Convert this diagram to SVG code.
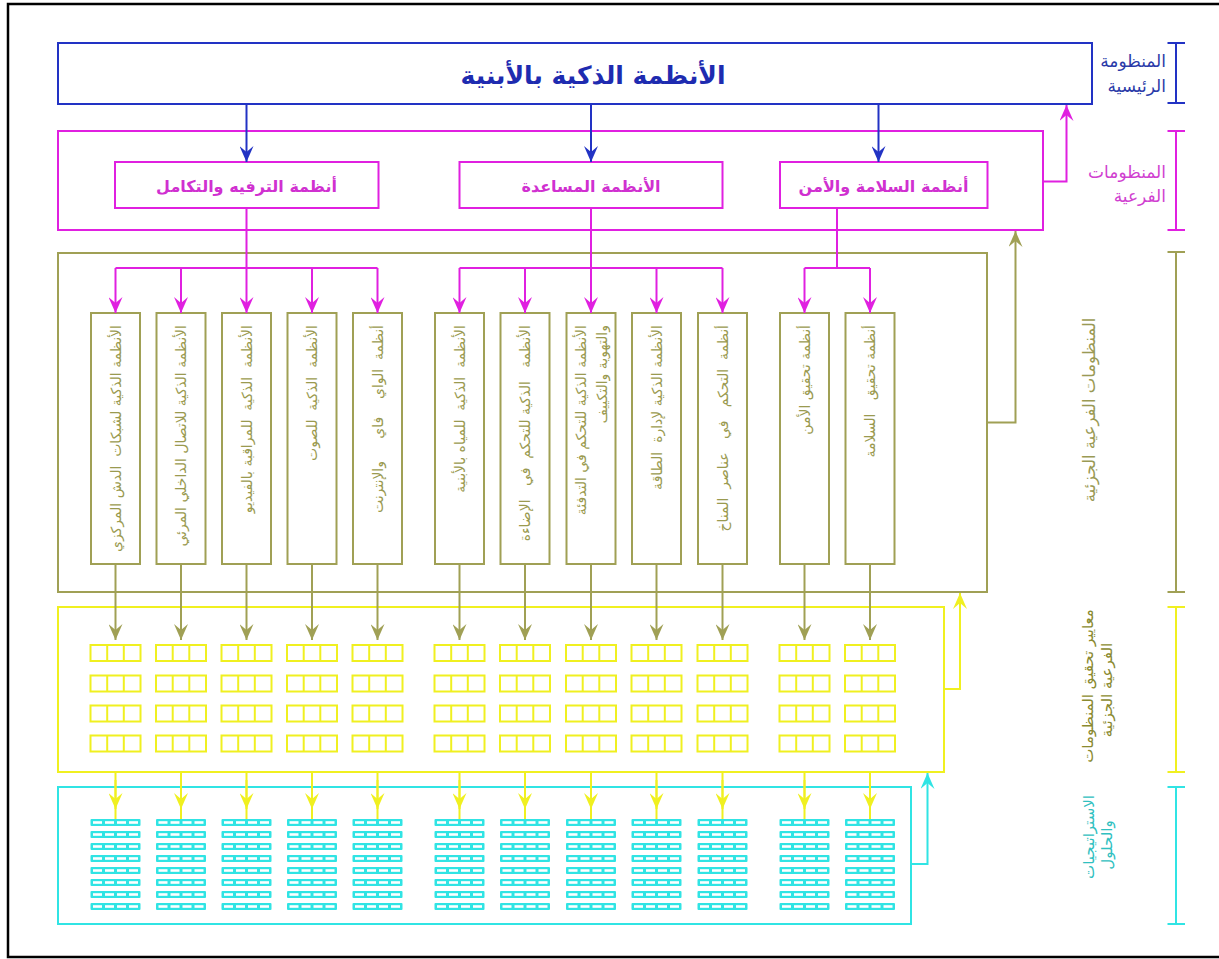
<svg xmlns="http://www.w3.org/2000/svg" xmlns:xlink="http://www.w3.org/1999/xlink" width="1219" height="959" viewBox="0 0 1219 959">
<style>
  text { font-family: "DejaVu Sans", "Noto Sans", sans-serif; dominant-baseline: central; white-space: pre; }
  .blue { stroke: #2233c4; stroke-width: 2; fill: none; }
  .mag { stroke: #e020e0; stroke-width: 2; fill: none; }
  .olive { stroke: #a0a055; stroke-width: 2; fill: none; }
  .yel { stroke: #f0f020; stroke-width: 2; fill: none; }
  .cyan { stroke: #30e4e4; stroke-width: 2; fill: none; }
  .title { fill: #1e2bb0; font-size: 25px; font-weight: bold; text-anchor: middle; }
  .sub { fill: #d030d0; font-size: 16px; font-weight: bold; text-anchor: middle; }
  .vt { fill: #9a9a50; font-size: 14px; text-anchor: end; }
  .lb { font-size: 17px; text-anchor: end; }
  .lbr { text-anchor: middle; }
</style>
<defs>
  <marker id="aB" viewBox="0 0 16 14" refX="16" refY="7" markerWidth="16" markerHeight="14" markerUnits="userSpaceOnUse" orient="auto"><path d="M0,0 L16,7 L0,14 L6,7 Z" fill="#2233c4"/></marker>
  <marker id="aM" viewBox="0 0 16 14" refX="16" refY="7" markerWidth="16" markerHeight="14" markerUnits="userSpaceOnUse" orient="auto"><path d="M0,0 L16,7 L0,14 L6,7 Z" fill="#e020e0"/></marker>
  <marker id="aO" viewBox="0 0 16 14" refX="16" refY="7" markerWidth="16" markerHeight="14" markerUnits="userSpaceOnUse" orient="auto"><path d="M0,0 L16,7 L0,14 L6,7 Z" fill="#a0a055"/></marker>
  <marker id="aY" viewBox="0 0 16 14" refX="16" refY="7" markerWidth="16" markerHeight="14" markerUnits="userSpaceOnUse" orient="auto"><path d="M0,0 L16,7 L0,14 L6,7 Z" fill="#f0f020"/></marker>
  <marker id="aC" viewBox="0 0 16 14" refX="16" refY="7" markerWidth="16" markerHeight="14" markerUnits="userSpaceOnUse" orient="auto"><path d="M0,0 L16,7 L0,14 L6,7 Z" fill="#30e4e4"/></marker>
  <g id="ygrid" class="yel"><rect x="0" y="0" width="50" height="16"/><line x1="16.7" y1="0" x2="16.7" y2="16"/><line x1="33.3" y1="0" x2="33.3" y2="16"/></g>
  <g id="ycol"><use xlink:href="#ygrid" y="0"/><use xlink:href="#ygrid" y="30.5"/><use xlink:href="#ygrid" y="60.5"/><use xlink:href="#ygrid" y="90.5"/></g>
  <g id="crow"><rect x="0" y="0" width="50" height="7" rx="1" fill="#30e4e4"/><rect x="2.5" y="2.2" width="9" height="2.6" fill="#fff"/><rect x="14.5" y="2.2" width="9" height="2.6" fill="#fff"/><rect x="26.5" y="2.2" width="9" height="2.6" fill="#fff"/><rect x="38.5" y="2.2" width="9" height="2.6" fill="#fff"/></g>
  <g id="ccol"><use xlink:href="#crow" y="0"/><use xlink:href="#crow" y="12"/><use xlink:href="#crow" y="24"/><use xlink:href="#crow" y="36"/><use xlink:href="#crow" y="48"/><use xlink:href="#crow" y="60"/><use xlink:href="#crow" y="72"/><use xlink:href="#crow" y="84"/></g>
</defs>
<rect x="0" y="0" width="1219" height="959" fill="#ffffff"/>
<rect x="8" y="4" width="1216" height="953" fill="none" stroke="#000" stroke-width="2.5"/>

<g id="main">
  <rect class="blue" x="58" y="43" width="1034" height="61"/>
  <text class="title" x="593" y="75">الأنظمة الذكية بالأبنية</text>
</g>

<g id="subsystems">
  <rect class="mag" x="58" y="131" width="985" height="99"/>
</g>
<g id="sub-ent">
  <rect class="mag" x="115" y="162" width="263.5" height="46"/>
  <text class="sub" x="246.5" y="186">أنظمة الترفيه والتكامل</text>
</g>
<g id="sub-aux">
  <rect class="mag" x="459.5" y="162" width="263" height="46"/>
  <text class="sub" x="591" y="186">الأنظمة المساعدة</text>
</g>
<g id="sub-safe">
  <rect class="mag" x="780" y="162" width="207.5" height="46"/>
  <text class="sub" x="883.5" y="186">أنظمة السلامة والأمن</text>
</g>

<g id="partial">
  <rect class="olive" x="58" y="253" width="929" height="339"/>
</g>
<g id="p1"><rect class="olive" x="91" y="313" width="49" height="251"/><text class="vt" transform="translate(115.5,325) rotate(-90)">الأنظمة الذكية لشبكات  الدش المركزي</text></g>
<g id="p2"><rect class="olive" x="156.5" y="313" width="49" height="251"/><text class="vt" transform="translate(181,325) rotate(-90)">الأنظمة الذكية للاتصال الداخلي المرئي</text></g>
<g id="p3"><rect class="olive" x="222" y="313" width="49" height="251"/><text class="vt" transform="translate(246.5,325) rotate(-90)">الأنظمة  الذكية  للمراقبة بالفيديو</text></g>
<g id="p4"><rect class="olive" x="287.5" y="313" width="49" height="251"/><text class="vt" transform="translate(312,325) rotate(-90)">الأنظمة  الذكية  للصوت</text></g>
<g id="p5"><rect class="olive" x="353" y="313" width="49" height="251"/><text class="vt" transform="translate(377.5,325) rotate(-90)">أنظمة  الواي    فاي     والإنترنت</text></g>
<g id="p6"><rect class="olive" x="435" y="313" width="49" height="251"/><text class="vt" transform="translate(459.5,325) rotate(-90)">الأنظمة  الذكية  للمياه بالأبنية</text></g>
<g id="p7"><rect class="olive" x="500.5" y="313" width="49" height="251"/><text class="vt" transform="translate(525,325) rotate(-90)">الأنظمة   الذكية للتحكم  في   الإضاءة</text></g>
<g id="p8"><rect class="olive" x="566.5" y="313" width="49" height="251"/><text class="vt" transform="translate(581,325) rotate(-90)">الأنظمة الذكية للتحكم في التدفئة</text><text class="vt" transform="translate(602,325) rotate(-90)">والتهوية والتكييف</text></g>
<g id="p9"><rect class="olive" x="632" y="313" width="49" height="251"/><text class="vt" transform="translate(656.5,325) rotate(-90)">الأنظمة الذكية لإدارة  الطاقة</text></g>
<g id="p10"><rect class="olive" x="698" y="313" width="49" height="251"/><text class="vt" transform="translate(722.5,325) rotate(-90)">أنظمة  التحكم   في   عناصر  المناخ</text></g>
<g id="p11"><rect class="olive" x="780" y="313" width="49" height="251"/><text class="vt" transform="translate(804.5,325) rotate(-90)">أنظمة تحقيق الأمن</text></g>
<g id="p12"><rect class="olive" x="845.5" y="313" width="49" height="251"/><text class="vt" transform="translate(870,325) rotate(-90)">أنظمة تحقيق   السلامة</text></g>

<g id="criteria">
  <rect class="yel" x="58" y="607" width="886" height="165"/>
  <use xlink:href="#ycol" x="90.5" y="645"/>
  <use xlink:href="#ycol" x="156" y="645"/>
  <use xlink:href="#ycol" x="221.5" y="645"/>
  <use xlink:href="#ycol" x="287" y="645"/>
  <use xlink:href="#ycol" x="352.5" y="645"/>
  <use xlink:href="#ycol" x="434.5" y="645"/>
  <use xlink:href="#ycol" x="500" y="645"/>
  <use xlink:href="#ycol" x="566" y="645"/>
  <use xlink:href="#ycol" x="631.5" y="645"/>
  <use xlink:href="#ycol" x="697.5" y="645"/>
  <use xlink:href="#ycol" x="779.5" y="645"/>
  <use xlink:href="#ycol" x="845" y="645"/>
</g>

<g id="strategies">
  <rect class="cyan" x="58" y="787" width="853" height="137"/>
  <use xlink:href="#ccol" x="90.5" y="819"/>
  <use xlink:href="#ccol" x="156" y="819"/>
  <use xlink:href="#ccol" x="221.5" y="819"/>
  <use xlink:href="#ccol" x="287" y="819"/>
  <use xlink:href="#ccol" x="352.5" y="819"/>
  <use xlink:href="#ccol" x="434.5" y="819"/>
  <use xlink:href="#ccol" x="500" y="819"/>
  <use xlink:href="#ccol" x="566" y="819"/>
  <use xlink:href="#ccol" x="631.5" y="819"/>
  <use xlink:href="#ccol" x="697.5" y="819"/>
  <use xlink:href="#ccol" x="779.5" y="819"/>
  <use xlink:href="#ccol" x="845" y="819"/>
</g>

<g id="connectors">
  <path class="blue" marker-end="url(#aB)" d="M246.5,104 V162"/>
  <path class="blue" marker-end="url(#aB)" d="M591,104 V162"/>
  <path class="blue" marker-end="url(#aB)" d="M878.5,104 V162"/>
  <path class="mag" marker-end="url(#aM)" d="M1043,181.5 H1066.5 V105"/>
  <path class="mag" d="M246.5,208 V268 M591,208 V268 M837,208 V268"/>
  <path class="mag" d="M115.5,268 H377.5 M459.5,268 H722.5 M804.5,268 H870"/>
  <path class="mag" marker-end="url(#aM)" d="M115.5,268 V313"/>
  <path class="mag" marker-end="url(#aM)" d="M181,268 V313"/>
  <path class="mag" marker-end="url(#aM)" d="M246.5,268 V313"/>
  <path class="mag" marker-end="url(#aM)" d="M312,268 V313"/>
  <path class="mag" marker-end="url(#aM)" d="M377.5,268 V313"/>
  <path class="mag" marker-end="url(#aM)" d="M459.5,268 V313"/>
  <path class="mag" marker-end="url(#aM)" d="M525,268 V313"/>
  <path class="mag" marker-end="url(#aM)" d="M591,268 V313"/>
  <path class="mag" marker-end="url(#aM)" d="M656.5,268 V313"/>
  <path class="mag" marker-end="url(#aM)" d="M722.5,268 V313"/>
  <path class="mag" marker-end="url(#aM)" d="M804.5,268 V313"/>
  <path class="mag" marker-end="url(#aM)" d="M870,268 V313"/>
  <path class="olive" marker-end="url(#aO)" d="M987,422.5 H1015.5 V231"/>
  <path class="olive" marker-end="url(#aO)" d="M115.5,564 V640"/>
  <path class="olive" marker-end="url(#aO)" d="M181,564 V640"/>
  <path class="olive" marker-end="url(#aO)" d="M246.5,564 V640"/>
  <path class="olive" marker-end="url(#aO)" d="M312,564 V640"/>
  <path class="olive" marker-end="url(#aO)" d="M377.5,564 V640"/>
  <path class="olive" marker-end="url(#aO)" d="M459.5,564 V640"/>
  <path class="olive" marker-end="url(#aO)" d="M525,564 V640"/>
  <path class="olive" marker-end="url(#aO)" d="M591,564 V640"/>
  <path class="olive" marker-end="url(#aO)" d="M656.5,564 V640"/>
  <path class="olive" marker-end="url(#aO)" d="M722.5,564 V640"/>
  <path class="olive" marker-end="url(#aO)" d="M804.5,564 V640"/>
  <path class="olive" marker-end="url(#aO)" d="M870,564 V640"/>
  <path class="yel" marker-end="url(#aY)" d="M944,689 H960 V593"/>
  <path class="yel" d="M115.5,772 V819 M181,772 V819 M246.5,772 V819 M312,772 V819 M377.5,772 V819 M459.5,772 V819 M525,772 V819 M591,772 V819 M656.5,772 V819 M722.5,772 V819 M804.5,772 V819 M870,772 V819"/>
  <path class="yel" marker-end="url(#aY)" d="M115.5,780 V809"/>
  <path class="yel" marker-end="url(#aY)" d="M181,780 V809"/>
  <path class="yel" marker-end="url(#aY)" d="M246.5,780 V809"/>
  <path class="yel" marker-end="url(#aY)" d="M312,780 V809"/>
  <path class="yel" marker-end="url(#aY)" d="M377.5,780 V809"/>
  <path class="yel" marker-end="url(#aY)" d="M459.5,780 V809"/>
  <path class="yel" marker-end="url(#aY)" d="M525,780 V809"/>
  <path class="yel" marker-end="url(#aY)" d="M591,780 V809"/>
  <path class="yel" marker-end="url(#aY)" d="M656.5,780 V809"/>
  <path class="yel" marker-end="url(#aY)" d="M722.5,780 V809"/>
  <path class="yel" marker-end="url(#aY)" d="M804.5,780 V809"/>
  <path class="yel" marker-end="url(#aY)" d="M870,780 V809"/>
  <path class="cyan" marker-end="url(#aC)" d="M911,864 H927.5 V773"/>
</g>

<g id="levels">
  <path class="blue" d="M1176,43 V103 M1167.5,43 H1185 M1167.5,103 H1185"/>
  <path class="mag" d="M1176,131 V230 M1167.5,131 H1185 M1167.5,230 H1185"/>
  <path class="olive" d="M1176,252 V592 M1167.5,252 H1185 M1167.5,592 H1185"/>
  <path class="yel" d="M1176,607 V772 M1167.5,607 H1185 M1167.5,772 H1185"/>
  <path class="cyan" d="M1176,787 V924 M1167.5,787 H1185 M1167.5,924 H1185"/>
  <text class="lb" x="1166" y="61" fill="#2a3aa8">المنظومة</text>
  <text class="lb" x="1166" y="86" fill="#2a3aa8">الرئيسية</text>
  <text class="lb" x="1166" y="172" fill="#d040d0">المنظومات</text>
  <text class="lb" x="1166" y="196" fill="#d040d0">الفرعية</text>
  <text class="lbr" font-size="16.5" transform="translate(1089,410) rotate(-90)" fill="#9a9a55">المنظومات الفرعية الجزئية</text>
  <text class="lbr" font-size="15" transform="translate(1088,686) rotate(-90)" fill="#8a8a30">معايير تحقيق المنظومات</text>
  <text class="lbr" font-size="15" transform="translate(1107,690) rotate(-90)" fill="#8a8a30">الفرعية الجزئية</text>
  <text class="lbr" font-size="15" transform="translate(1089,837) rotate(-90)" fill="#30c0c0">الاستراتيجيات</text>
  <text class="lbr" font-size="15" transform="translate(1107,845) rotate(-90)" fill="#30c0c0">والحلول</text>
</g>
</svg>
